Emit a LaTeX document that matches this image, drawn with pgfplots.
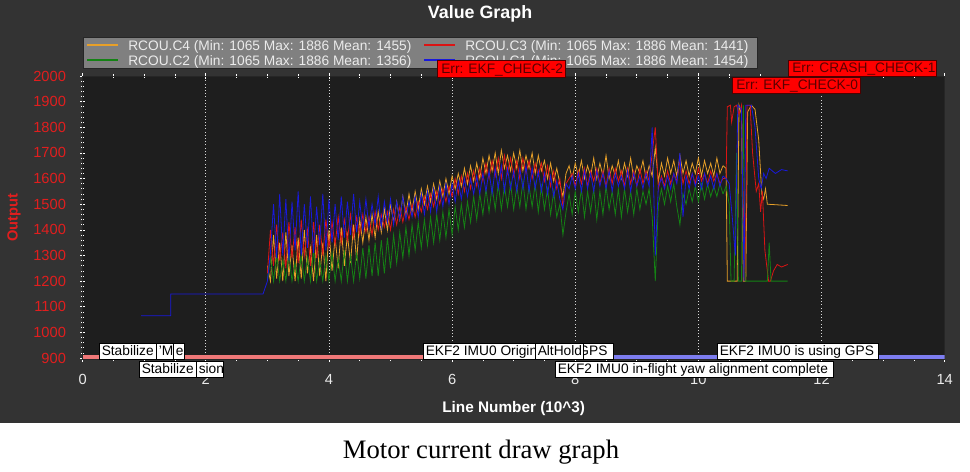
\documentclass[border=0pt]{standalone}
\usepackage{pgfplots}
\usepackage{pgfplotstable}
\pgfplotsset{compat=1.18}
\usepackage{fontspec}
\setmainfont{Liberation Sans}
\newfontfamily\capfont{Liberation Serif}
\definecolor{bgout}{RGB}{51,51,51}
\definecolor{bgplot}{RGB}{30,30,30}
\definecolor{cOr}{RGB}{232,160,40}
\definecolor{cRd}{RGB}{220,20,20}
\definecolor{cGr}{RGB}{20,130,20}
\definecolor{cBl}{RGB}{25,25,220}
\definecolor{lgd}{RGB}{128,128,128}
\definecolor{lblred}{RGB}{225,30,30}
\definecolor{txt}{RGB}{235,235,235}
\definecolor{errtxt}{RGB}{90,0,0}
\definecolor{modepink}{RGB}{240,120,120}
\definecolor{modeblue}{RGB}{125,125,240}
\def\lblfont{\fontsize{10.3}{12}\selectfont}
\newcommand\wbox[5]{%
  \begin{scope}
    \clip (#1,#2) rectangle (#3,#4);
    \fill[white] (#1,#2) rectangle (#3,#4);
    \node[anchor=base west,inner sep=0pt,font=\lblfont,text=black] at (#1+2.5,#4-3.6) {#5};
  \end{scope}
  \draw[black,line width=0.5pt] (#1,#2) rectangle (#3,#4);}
\newcommand\ebox[5]{%
  \filldraw[fill=red,draw=black!70!red,line width=0.5pt] (#1,#2) rectangle (#3,#4);
  \node[anchor=base west,inner sep=0pt,font=\lblfont,text=errtxt] at (#1+4,#4-3.8) {#5};}
\newcommand\lgentry[4]{% x, y(center), color, text
  \draw[#3,line width=0.9pt] (#1,#2) -- (#1+31,#2);
  \node[anchor=base west,inner sep=0pt,font=\lblfont,text=txt] at (#1+41,#2+5) {#4};}
\pgfplotstableread{
x c4 c3 c2 c1
3.00 1260 1230 1200 1200
3.05 1200 1400 1290 1310
3.10 1380 1260 1200 1500
3.15 1210 1420 1300 1290
3.20 1350 1280 1200 1540
3.25 1200 1390 1280 1300
3.30 1390 1250 1200 1520
3.35 1220 1430 1310 1280
3.40 1340 1290 1200 1510
3.45 1200 1410 1270 1320
3.50 1370 1270 1200 1550
3.55 1210 1440 1300 1300
3.60 1400 1300 1200 1500
3.65 1230 1400 1290 1330
3.70 1330 1260 1200 1530
3.75 1200 1430 1320 1310
3.80 1380 1290 1200 1490
3.85 1220 1420 1280 1340
3.90 1350 1300 1200 1540
3.95 1200 1440 1300 1320
4.00 1400 1330 1200 1520
4.05 1240 1430 1310 1350
4.10 1370 1340 1200 1500
4.15 1250 1450 1290 1360
4.20 1410 1350 1200 1530
4.25 1260 1440 1320 1370
4.30 1380 1360 1200 1510
4.35 1270 1460 1300 1380
4.40 1420 1370 1200 1540
4.45 1280 1450 1310 1390
4.50 1440 1380 1210 1510
4.55 1350 1460 1330 1400
4.60 1450 1390 1210 1520
4.65 1360 1450 1340 1410
4.70 1460 1380 1220 1500
4.75 1370 1470 1350 1420
4.80 1470 1400 1220 1530
4.85 1390 1460 1360 1410
4.90 1480 1410 1230 1510
4.95 1400 1470 1370 1430
5.00 1500 1400 1250 1520
5.05 1430 1480 1380 1420
5.10 1510 1420 1270 1510
5.15 1440 1490 1390 1440
5.20 1530 1430 1290 1530
5.25 1460 1490 1410 1440
5.30 1540 1440 1300 1510
5.35 1470 1500 1420 1450
5.40 1550 1450 1320 1530
5.45 1480 1510 1430 1450
5.50 1560 1470 1330 1540
5.55 1500 1530 1440 1460
5.60 1570 1480 1340 1550
5.65 1510 1540 1450 1470
5.70 1580 1490 1350 1560
5.75 1520 1550 1460 1470
5.80 1590 1500 1360 1570
5.85 1530 1560 1470 1490
5.90 1600 1510 1370 1580
5.95 1540 1570 1480 1500
6.00 1610 1530 1380 1580
6.05 1560 1600 1490 1510
6.10 1620 1540 1400 1590
6.15 1570 1610 1500 1520
6.20 1640 1550 1410 1600
6.25 1580 1620 1510 1530
6.30 1650 1560 1430 1600
6.35 1590 1630 1530 1540
6.40 1660 1570 1440 1610
6.45 1600 1640 1540 1540
6.50 1680 1590 1460 1620
6.55 1620 1660 1560 1550
6.60 1690 1600 1470 1630
6.65 1630 1670 1570 1540
6.70 1700 1610 1480 1640
6.75 1620 1680 1580 1560
6.80 1710 1600 1480 1650
6.85 1640 1690 1570 1550
6.90 1690 1620 1490 1640
6.95 1630 1680 1580 1560
7.00 1700 1610 1480 1630
7.05 1640 1670 1570 1550
7.10 1710 1600 1490 1640
7.15 1630 1680 1590 1560
7.20 1690 1620 1480 1650
7.25 1640 1670 1570 1550
7.30 1700 1600 1490 1640
7.35 1620 1660 1580 1560
7.40 1690 1610 1470 1630
7.45 1630 1660 1570 1550
7.50 1670 1590 1480 1620
7.55 1600 1650 1560 1540
7.60 1660 1570 1460 1610
7.65 1590 1630 1550 1530
7.70 1640 1560 1450 1590
7.75 1580 1600 1500 1520
7.80 1530 1490 1380 1480
7.85 1620 1580 1470 1580
7.90 1650 1600 1540 1560
7.95 1600 1620 1460 1610
8.00 1660 1570 1550 1560
8.05 1610 1630 1470 1620
8.10 1670 1580 1560 1550
8.15 1600 1640 1450 1630
8.20 1650 1570 1550 1560
8.25 1610 1630 1470 1620
8.30 1680 1590 1560 1550
8.35 1600 1640 1440 1630
8.40 1660 1580 1550 1570
8.45 1610 1630 1460 1620
8.50 1690 1570 1570 1560
8.55 1600 1640 1480 1630
8.60 1650 1580 1550 1550
8.65 1610 1640 1460 1620
8.70 1670 1590 1560 1570
8.75 1600 1630 1450 1610
8.80 1660 1570 1560 1560
8.85 1610 1640 1470 1630
8.90 1680 1580 1550 1550
8.95 1600 1630 1460 1620
9.00 1650 1570 1560 1570
9.05 1620 1640 1480 1610
9.10 1670 1580 1550 1560
9.15 1600 1630 1500 1620
9.20 1650 1590 1560 1570
9.25 1610 1700 1450 1800
9.30 1720 1800 1200 1300
9.35 1590 1560 1500 1570
9.40 1660 1610 1560 1600
9.45 1610 1570 1500 1560
9.50 1680 1630 1570 1610
9.55 1620 1580 1510 1560
9.60 1670 1620 1580 1620
9.65 1610 1590 1490 1580
9.70 1690 1670 1420 1700
9.75 1620 1580 1540 1450
9.80 1670 1630 1500 1610
9.85 1610 1580 1560 1560
9.90 1660 1620 1510 1620
9.95 1620 1580 1570 1570
10.00 1680 1640 1510 1610
10.05 1610 1590 1580 1560
10.10 1670 1620 1520 1620
10.15 1620 1580 1580 1570
10.20 1660 1630 1530 1610
10.25 1610 1590 1570 1560
10.30 1680 1620 1530 1620
10.35 1620 1580 1580 1570
10.40 1650 1600 1540 1610
}\maindata
\begin{document}
\begin{tikzpicture}
\useasboundingbox (0,0) rectangle (727.5pt,-353.25pt);
\fill[bgout] (0,0) rectangle (720pt,-317.25pt);
\begin{axis}[
  at={(62pt,-269.5pt)}, anchor=south west, scale only axis,
  width=646.5pt, height=212.5pt,
  xmin=0, xmax=14, ymin=895, ymax=2000,
  axis background/.style={fill=bgplot},
  axis line style={black!85, line width=0.6pt},
  xtick={0,2,...,14}, ytick={900,1000,...,2000},
  minor x tick num=3, minor y tick num=4,
  xtick pos=both, ytick pos=left,
  tick align=center,
  major tick length=4pt, minor tick length=2.5pt,
  every tick/.style={white, line width=0.5pt},
  xmajorgrids,
  major x grid style={dotted, white!85!black, line width=0.6pt},
  /pgf/number format/assume math mode=true,
  /pgf/number format/1000 sep={},
  xticklabel style={font=\fontsize{11}{13}\selectfont, text=txt, yshift=-6pt},
  yticklabel style={font=\fontsize{11}{13}\selectfont, text=lblred, xshift=-7pt},
  title={Value Graph},
  every axis title/.style={at={(axis description cs:0.461,1.219)}, anchor=center,
    font=\fontsize{13.4}{15}\selectfont\bfseries, text=white},
  xlabel={Line Number (10\textasciicircum 3)},
  xlabel style={at={(axis description cs:0.5,-0.172)}, anchor=center,
    font=\fontsize{11.5}{13}\selectfont\bfseries, text=white},
  ylabel={Output},
  ylabel style={at={(axis description cs:-0.0797,0.5)}, anchor=center,
    font=\fontsize{11}{13}\selectfont\bfseries, text=lblred},
]
\addplot[cBl, line width=0.6pt] coordinates {
(0.95,1065)(1.43,1065)(1.43,1150)(2.93,1150)(3.0,1200)};
\addplot[cOr, line width=0.6pt] table[x=x,y=c4] {\maindata};
\addplot[cRd, line width=0.6pt] table[x=x,y=c3] {\maindata};
\addplot[cGr, line width=0.6pt] table[x=x,y=c2] {\maindata};
\addplot[cBl, line width=0.6pt] table[x=x,y=c1] {\maindata};
\addplot[cOr, line width=0.6pt] coordinates {
(10.40,1650)(10.45,1640)(10.47,1200)(10.63,1200)(10.66,1886)
(10.70,1850)(10.73,1200)(10.77,1200)(10.80,1860)(10.86,1886)(10.92,1870)(10.98,1750)(11.03,1540)
(11.06,1520)(11.09,1560)(11.12,1500)(11.45,1495)};
\addplot[cRd, line width=0.6pt] coordinates {
(10.40,1600)(10.45,1600)(10.47,1880)(10.52,1886)(10.54,1820)
(10.58,1880)(10.62,1886)(10.66,1850)(10.70,1886)(10.73,1500)(10.76,1200)(10.79,1886)(10.84,1886)
(10.88,1700)(10.94,1550)(10.98,1580)(11.01,1470)(11.04,1550)(11.08,1320)(11.14,1200)(11.17,1200)
(11.22,1240)(11.28,1265)(11.35,1255)(11.45,1265)};
\addplot[cGr, line width=0.6pt] coordinates {
(10.40,1540)(10.45,1570)(10.50,1500)(10.53,1200)(10.58,1200)
(10.62,1700)(10.65,1200)(10.70,1200)(10.73,1886)(10.76,1200)(11.12,1200)(11.15,1350)(11.18,1200)(11.45,1200)};
\addplot[cBl, line width=0.6pt] coordinates {
(10.40,1610)(10.45,1600)(10.50,1580)(10.55,1450)(10.60,1300)(10.64,1886)(10.70,1870)(10.74,1200)(10.77,1886)
(10.86,1886)(10.92,1800)(10.98,1600)(11.02,1560)(11.06,1620)(11.10,1600)(11.15,1640)(11.25,1620)(11.35,1635)(11.45,1630)};
\addplot[fill=modepink, draw=none] coordinates {(0,912)(7.35,912)} \closedcycle;
\addplot[fill=modeblue, draw=none] coordinates {(7.35,912)(14,912)} \closedcycle;
\end{axis}
\begin{scope}[x=0.75pt,y=-0.75pt]
  \filldraw[fill=lgd,draw=black!85,line width=0.6pt] (83,37) rectangle (757,68);
  \lgentry{87}{45}{cOr}{RCOU.C4 (Min: 1065 Max: 1886 Mean: 1455)}
  \lgentry{424}{45}{cRd}{RCOU.C3 (Min: 1065 Max: 1886 Mean: 1441)}
  \lgentry{87}{60}{cGr}{RCOU.C2 (Min: 1065 Max: 1886 Mean: 1356)}
  \lgentry{424}{60}{cBl}{RCOU.C1 (Min: 1065 Max: 1886 Mean: 1454)}
  \ebox{437}{60}{565}{77}{Err: EKF\_CHECK-2}
  \ebox{788}{60}{936}{76}{Err: CRASH\_CHECK-1}
  \ebox{732}{77}{860}{93}{Err: EKF\_CHECK-0}
  \wbox{99}{343}{156}{359}{Stabilize}
  \wbox{156}{343}{173}{359}{'M}
  \wbox{173}{343}{184}{359}{e}
  \wbox{139}{361}{196}{377}{Stabilize}
  \wbox{196}{361}{223}{377}{sion}
  \wbox{423}{343}{613}{359}{EKF2 IMU0 Origin set to GPS}
  \wbox{535}{343}{583}{359}{AltHold}
  \wbox{555}{361}{833}{377}{EKF2 IMU0 in-flight yaw alignment complete}
  \wbox{717}{343}{878}{359}{EKF2 IMU0 is using GPS}
  \node[font=\capfont\fontsize{20}{24}\selectfont, text=black] at (481,452) {Motor current draw graph};
\end{scope}
\end{tikzpicture}
\end{document}
